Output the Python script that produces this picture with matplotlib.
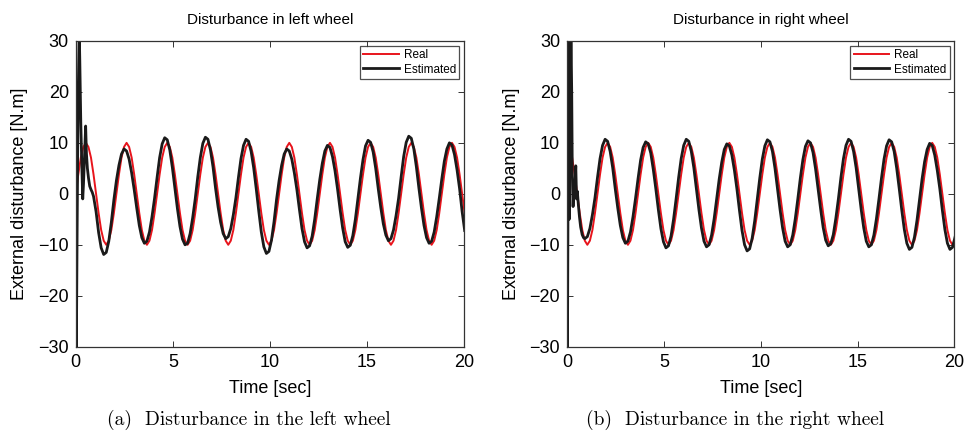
import numpy as np
import matplotlib.pyplot as plt

plt.rcParams['font.family'] = ['Liberation Sans', 'DejaVu Sans']

# sampled signals, dt ~ 0.1309 s
dt = 0.1309
n_samples = 154

# real disturbance, left wheel
real_left = [
    0, 3.8, 7.1, 9.2, 10, 9.2, 7.1, 3.8, 0, -3.8, -7.1, -9.2, -10, -9.2, -7.1, -3.8,
    0, 3.8, 7.1, 9.2, 10, 9.2, 7.1, 3.8, 0, -3.8, -7.1, -9.2, -10, -9.2, -7.1, -3.8,
    0, 3.8, 7.1, 9.2, 10, 9.2, 7.1, 3.8, 0, -3.8, -7.1, -9.2, -10, -9.2, -7.1, -3.8,
    0, 3.8, 7.1, 9.2, 10, 9.2, 7.1, 3.8, 0, -3.8, -7.1, -9.2, -10, -9.2, -7.1, -3.8,
    0, 3.8, 7.1, 9.2, 10, 9.2, 7.1, 3.8, 0, -3.8, -7.1, -9.2, -10, -9.2, -7.1, -3.8,
    0, 3.8, 7.1, 9.2, 10, 9.2, 7.1, 3.8, 0, -3.8, -7.1, -9.2, -10, -9.2, -7.1, -3.8,
    0, 3.8, 7.1, 9.2, 10, 9.2, 7.1, 3.8, 0, -3.8, -7.1, -9.2, -10, -9.2, -7.1, -3.8,
    0, 3.8, 7.1, 9.2, 10, 9.2, 7.1, 3.8, 0, -3.8, -7.1, -9.2, -10, -9.2, -7.1, -3.8,
    0, 3.8, 7.1, 9.2, 10, 9.2, 7.1, 3.8, 0, -3.8, -7.1, -9.2, -10, -9.2, -7.1, -3.8,
    0, 3.8, 7.1, 9.2, 10, 9.2, 7.1, 3.8, 0, -3.8,
]

# real disturbance, right wheel
real_right = [
    10, 9.2, 7.1, 3.8, 0, -3.8, -7.1, -9.2, -10, -9.2, -7.1, -3.8, 0, 3.8, 7.1, 9.2,
    10, 9.2, 7.1, 3.8, 0, -3.8, -7.1, -9.2, -10, -9.2, -7.1, -3.8, 0, 3.8, 7.1, 9.2,
    10, 9.2, 7.1, 3.8, 0, -3.8, -7.1, -9.2, -10, -9.2, -7.1, -3.8, 0, 3.8, 7.1, 9.2,
    10, 9.2, 7.1, 3.8, 0, -3.8, -7.1, -9.2, -10, -9.2, -7.1, -3.8, 0, 3.8, 7.1, 9.2,
    10, 9.2, 7.1, 3.8, 0, -3.8, -7.1, -9.2, -10, -9.2, -7.1, -3.8, 0, 3.8, 7.1, 9.2,
    10, 9.2, 7.1, 3.8, 0, -3.8, -7.1, -9.2, -10, -9.2, -7.1, -3.8, 0, 3.8, 7.1, 9.2,
    10, 9.2, 7.1, 3.8, 0, -3.8, -7.1, -9.2, -10, -9.2, -7.1, -3.8, 0, 3.8, 7.1, 9.2,
    10, 9.2, 7.1, 3.8, 0, -3.8, -7.1, -9.2, -10, -9.2, -7.1, -3.8, 0, 3.8, 7.1, 9.2,
    10, 9.2, 7.1, 3.8, 0, -3.8, -7.1, -9.2, -10, -9.2, -7.1, -3.8, 0, 3.8, 7.1, 9.2,
    10, 9.2, 7.1, 3.8, 0, -3.8, -7.1, -9.2, -10, -9.2,
]

# observer start-up transient (irregular time stamps)
est_left_t0 = [0.0, 0.03, 0.07, 0.12, 0.18, 0.21, 0.26, 0.31, 0.36, 0.40,
               0.45, 0.51, 0.55, 0.60, 0.66, 0.72, 0.79, 0.85]
est_left_v0 = [0, -32, -8, 18, 32, 26, 14, 6, -1.0, 2,
               7, 13.3, 8, 5, 3, 1.5, 0.8, 0.3]
est_right_t0 = [0.0, 0.02, 0.05, 0.08, 0.11, 0.15, 0.20, 0.24, 0.27, 0.31,
                0.36, 0.40, 0.45, 0.49, 0.53, 0.58, 0.64, 0.70, 0.78, 0.85]
est_right_v0 = [0, -32, 3, 32, -5, 12, 32, 20, 4, -2.5,
                2, 1, 5.5, -1, 0.5, -2, -4.5, -6.5, -8, -8.6]

# estimated disturbance after the transient, samples 7..153
est_left = [
    -0.5,
    -3.5, -7.6, -10.6, -11.9, -11.5, -9.3, -5.6, -1.2,
    2.6, 5.6, 7.8, 8.8, 8.4, 6.8, 4.1, 0.8,
    -2.8, -6.2, -8.6, -9.7, -9.3, -7.5, -4.5, -0.9,
    3.2, 7.1, 9.8, 11.0, 10.6, 8.6, 5.2, 1.1,
    -2.9, -6.4, -8.9, -10.0, -9.7, -7.8, -4.7, -1.0,
    3.3, 7.1, 9.9, 11.1, 10.7, 8.6, 5.3, 1.1,
    -2.6, -5.6, -7.8, -8.8, -8.4, -6.8, -4.1, -0.8,
    3.2, 6.9, 9.5, 10.7, 10.3, 8.3, 5.1, 1.0,
    -3.4, -7.5, -10.4, -11.7, -11.3, -9.1, -5.5, -1.1,
    2.6, 5.6, 7.8, 8.8, 8.4, 6.8, 4.1, 0.8,
    -3.1, -6.8, -9.4, -10.6, -10.2, -8.3, -5.0, -1.0,
    2.8, 6.0, 8.4, 9.5, 9.1, 7.3, 4.5, 0.9,
    -3.1, -6.7, -9.4, -10.5, -10.1, -8.2, -5.0, -1.0,
    3.1, 6.7, 9.4, 10.5, 10.1, 8.2, 5.0, 1.0,
    -2.7, -5.9, -8.1, -9.2, -8.8, -7.1, -4.3, -0.9,
    3.3, 7.3, 10.1, 11.3, 10.9, 8.8, 5.3, 1.1,
    -2.8, -6.2, -8.6, -9.7, -9.3, -7.5, -4.5, -0.9,
    2.9, 6.4, 8.8, 10.0, 9.6, 7.7, 4.7, 1.0,
    -3.5, -7.2,
]
est_right = [
    -8.8, -8.4, -6.8, -4.1, -0.8,
    3.2, 6.9, 9.5, 10.7, 10.3, 8.3, 5.1, 1.0,
    -2.8, -6.2, -8.6, -9.7, -9.3, -7.5, -4.5, -0.9,
    3.0, 6.6, 9.1, 10.2, 9.8, 8.0, 4.8, 1.0,
    -3.1, -6.8, -9.4, -10.6, -10.2, -8.3, -5.0, -1.0,
    3.2, 6.9, 9.5, 10.7, 10.3, 8.3, 5.1, 1.0,
    -3.1, -6.7, -9.3, -10.4, -10.0, -8.1, -4.9, -1.0,
    2.9, 6.2, 8.7, 9.8, 9.4, 7.6, 4.6, 0.9,
    -3.3, -7.2, -10.0, -11.2, -10.8, -8.7, -5.3, -1.1,
    3.1, 6.8, 9.4, 10.6, 10.2, 8.3, 5.0, 1.0,
    -3.1, -6.7, -9.3, -10.4, -10.0, -8.1, -4.9, -1.0,
    3.1, 6.7, 9.3, 10.4, 10.0, 8.1, 4.9, 1.0,
    -3.0, -6.6, -9.1, -10.2, -9.8, -8.0, -4.8, -1.0,
    3.2, 6.9, 9.5, 10.7, 10.3, 8.3, 5.1, 1.0,
    -3.1, -6.7, -9.3, -10.4, -10.0, -8.1, -4.9, -1.0,
    3.1, 6.8, 9.4, 10.6, 10.2, 8.3, 5.0, 1.0,
    -3.2, -7.0, -9.7, -10.9, -10.5, -8.5, -5.2, -1.1,
    2.9, 6.3, 8.7, 9.9, 9.5, 7.6, 4.6, 1.0,
    -3.2, -7.0, -9.7, -10.9, -10.5, -8.5,
]

titles = ['Disturbance in left wheel', 'Disturbance in right wheel']
captions = ['(a)  Disturbance in the left wheel', '(b)  Disturbance in the right wheel']

t = dt * np.arange(n_samples)
t_est = t[7:]

fig = plt.figure(figsize=(9.71, 4.40), dpi=100)
ax_l = fig.add_axes([0.078, 0.212, 0.400, 0.695])
ax_r = fig.add_axes([0.584, 0.212, 0.399, 0.695])

panels = [
    (ax_l, real_left, est_left_t0, est_left_v0, est_left),
    (ax_r, real_right, est_right_t0, est_right_v0, est_right),
]

for i, (ax, real, t0, v0, est) in enumerate(panels):
    te = np.concatenate([t0, t_est])
    ve = np.concatenate([v0, est])
    ax.plot(t, real, color='#e8141c', lw=1.4, label='Real')
    ax.plot(te, ve, color='#1a1a1a', lw=2.0, label='Estimated')
    ax.set_xlim(0, 20)
    ax.set_ylim(-30, 30)
    ax.set_xticks([0, 5, 10, 15, 20])
    ax.set_yticks([-30, -20, -10, 0, 10, 20, 30])
    ax.tick_params(direction='in', top=True, right=True, length=4.5,
                   width=0.7, labelsize=13, color='#333333', pad=5)
    for s in ax.spines.values():
        s.set_linewidth(0.9)
        s.set_color('#333333')
    ax.set_title(titles[i], fontsize=11, pad=12)
    ax.set_xlabel('Time [sec]', fontsize=13, labelpad=7)
    ax.set_ylabel('External disturbance [N.m]', fontsize=13, labelpad=7)
    leg = ax.legend(loc='upper right', fontsize=8.5, frameon=True, fancybox=False,
                    handlelength=3.0, borderpad=0.3, labelspacing=0.2,
                    handletextpad=0.4, borderaxespad=0.4)
    leg.get_frame().set_edgecolor('#222222')
    leg.get_frame().set_linewidth(0.9)

fig.text(0.256, 0.045, captions[0], ha='center', va='center',
         family='cmr10', fontsize=14)
fig.text(0.757, 0.045, captions[1], ha='center', va='center',
         family='cmr10', fontsize=14)

fig.savefig('out.png', dpi=100)
